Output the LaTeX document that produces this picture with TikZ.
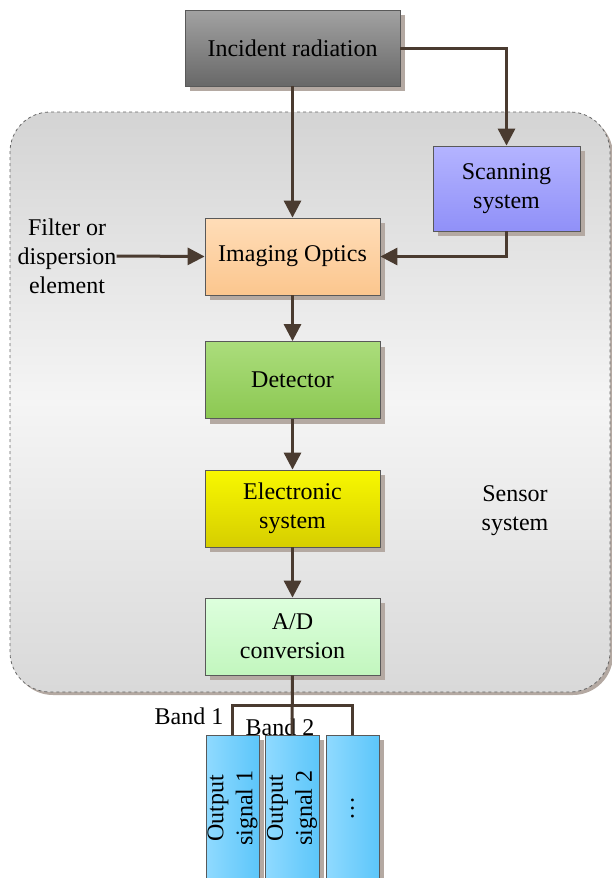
\documentclass[tikz,border=0pt]{standalone}
\usepackage{fontspec}
\setmainfont{Liberation Serif}
\usetikzlibrary{arrows.meta,shadows}

\definecolor{arrowbrown}{HTML}{4A3B30}
\definecolor{shadowgray}{HTML}{B4A9A2}
\definecolor{incTop}{HTML}{A2A2A2}
\definecolor{incBot}{HTML}{686868}
\definecolor{scanTop}{HTML}{B4B4FF}
\definecolor{scanBot}{HTML}{9090F8}
\definecolor{optTop}{HTML}{FFDDB8}
\definecolor{optBot}{HTML}{FBC68E}
\definecolor{detTop}{HTML}{ABDD7C}
\definecolor{detBot}{HTML}{8CC852}
\definecolor{eleTop}{HTML}{F8F800}
\definecolor{eleBot}{HTML}{D6CE00}
\definecolor{adTop}{HTML}{DDFFDD}
\definecolor{adBot}{HTML}{C2F6BE}
\definecolor{outLeft}{HTML}{90DAFF}
\definecolor{outRight}{HTML}{5CC6FA}

\tikzset{
  block/.style={draw=black!65, line width=0.8pt, minimum width=175pt, minimum height=77pt,
    align=center, inner sep=2pt, font=\fontsize{24}{29}\selectfont,
    drop shadow={shadow xshift=5pt, shadow yshift=-5pt, fill=shadowgray, opacity=1}},
  sensorbox/.style={draw=black!60, dashed, line width=0.8pt, rounded corners=40pt,
    minimum width=600pt, minimum height=580pt,
    top color=black!17, bottom color=black!15, middle color=black!4,
    drop shadow={shadow xshift=3pt, shadow yshift=-3pt, fill=shadowgray, opacity=1}},
  plaintext/.style={align=center, inner sep=0pt, font=\fontsize{24}{29}\selectfont},
  flowarrow/.style={draw=arrowbrown, line width=3pt, -{Triangle[width=17pt,length=17pt]}},
  flowline/.style={draw=arrowbrown, line width=3pt},
}

\begin{document}
\begin{tikzpicture}[x=1pt,y=-1pt]
  \useasboundingbox (0,0) rectangle (612,878);

  % sensor system frame
  \node[sensorbox] (sensor) at (310,402) {};
  \node[plaintext] (sensorlbl) at (515,511) {Sensor\\system};

  % blocks
  \node[block, minimum width=215pt, minimum height=76pt, top color=incTop, bottom color=incBot] (incident) at (292.5,48) {Incident radiation};
  \node[block, minimum width=147pt, minimum height=85pt, top color=scanTop, bottom color=scanBot] (scanning) at (506.5,188.5) {Scanning\\system};
  \node[block, top color=optTop, bottom color=optBot] (optics) at (292.5,256.5) {Imaging Optics};
  \node[block, top color=detTop, bottom color=detBot] (detector) at (292.5,380) {Detector};
  \node[block, top color=eleTop, bottom color=eleBot] (electronic) at (292.5,508.5) {Electronic\\system};
  \node[block, top color=adTop, bottom color=adBot] (adconv) at (292.5,636.5) {A/D\\conversion};
  \node[plaintext] (filter) at (67,256) {Filter or\\dispersion\\element};

  % output bands
  \node[block, minimum width=53pt, minimum height=146pt, left color=outLeft, right color=outRight] (out1) at (232.5,808) {};
  \node[block, minimum width=54pt, minimum height=146pt, left color=outLeft, right color=outRight] (out2) at (292,808) {};
  \node[block, minimum width=53pt, minimum height=146pt, left color=outLeft, right color=outRight] (out3) at (352.5,808) {};
  \node[plaintext, rotate=90] at (out1) {Output\\signal 1};
  \node[plaintext, rotate=90] at (out2) {Output\\signal 2};
  \node[plaintext, rotate=90] at (out3) {\ldots};
  \node[plaintext] (band1) at (189,716) {Band 1};
  \node[plaintext] (band2) at (280,727) {Band 2};

  % connectors
  \draw[flowarrow] (incident) -- (optics);
  \draw[flowarrow] (incident.east) -| (scanning.north);
  \draw[flowarrow] (scanning.south) |- (optics.east);
  \draw[flowarrow] (filter.east) -- (optics.west);
  \draw[flowarrow] (optics) -- (detector);
  \draw[flowarrow] (detector) -- (electronic);
  \draw[flowarrow] (electronic) -- (adconv);
  \draw[flowline] (adconv.south) -- (out2.north);
  \draw[flowline] (out1.north) -- ++(0,-29) -| (out3.north);
\end{tikzpicture}
\end{document}
